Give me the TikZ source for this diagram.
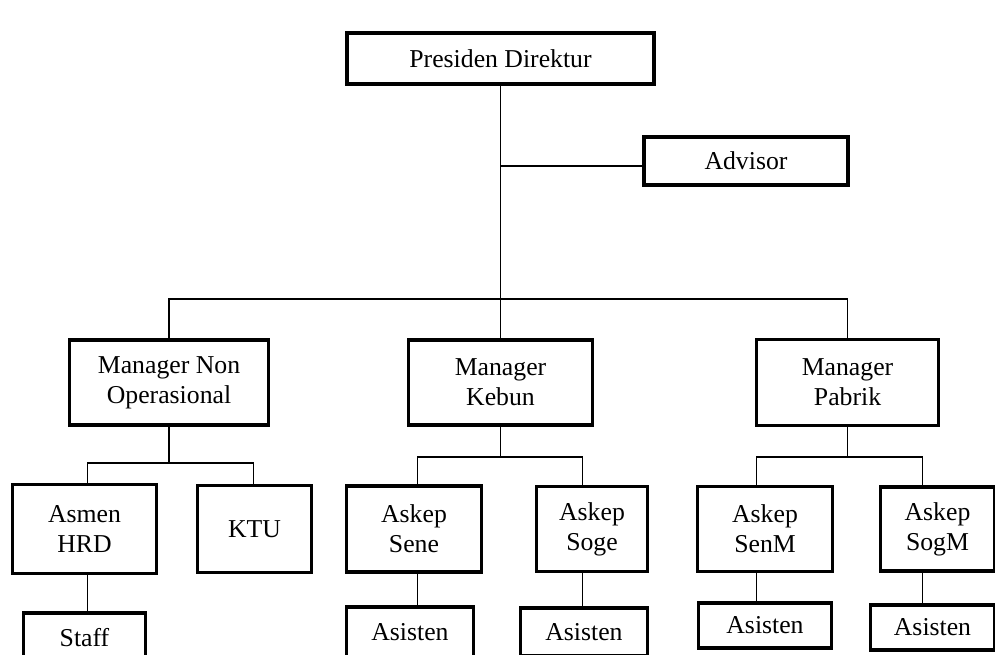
\documentclass[tikz,border=0pt]{standalone}
\usepackage{fontspec}
\setmainfont{Liberation Serif}
\usetikzlibrary{positioning}

\begin{document}
\begin{tikzpicture}[box/.style={
% The shape:
rectangle,
% The size:
inner sep=0pt, outer sep=0pt,
% The border:
draw=black, line width=2.6pt,
% The text:
align=center, font=\fontsize{19.3pt}{22.5pt}\selectfont
}, link/.style={line width=1.1pt}]

	\useasboundingbox (0,0) rectangle (746.25pt,-491.25pt);

	\node (PD) [box, minimum width=230.25pt, minimum height=38.25pt] at (375.4pt,-43.9pt) {Presiden Direktur};
	\coordinate [below=61.5pt of PD] (advfork);
	\node (ADV) [box, minimum width=153pt, minimum height=36pt, right=107.6pt of advfork, yshift=3.75pt] {Advisor};
	\coordinate [below=161.25pt of PD] (bar);

	\node (MK) [box, minimum width=138pt, minimum height=63.75pt, below=192pt of PD] {Manager\\Kebun};
	\node (MNO) [box, minimum width=149.25pt, minimum height=63.75pt, left=105pt of MK] {Manager Non\\Operasional};
	\node (MP) [box, minimum width=136.5pt, minimum height=64.5pt, right=123pt of MK] {Manager\\Pabrik};

	\node (AHRD) [box, minimum width=108pt, minimum height=66.75pt, below=44.6pt of MNO, xshift=-63.4pt] {Asmen\\HRD};
	\node (KTU) [box, minimum width=85.5pt, minimum height=65.25pt, right=30.75pt of AHRD] {KTU};
	\node (ASene) [box, minimum width=101.25pt, minimum height=64.5pt, right=26.25pt of KTU] {Askep\\Sene};
	\node (ASoge) [box, minimum width=83.25pt, minimum height=63.75pt, right=41.25pt of ASene] {Askep\\Soge};
	\node (ASenM) [box, minimum width=101.25pt, minimum height=63.75pt, right=37.5pt of ASoge] {Askep\\SenM};
	\node (ASogM) [box, minimum width=85.5pt, minimum height=63pt, right=36pt of ASenM] {Askep\\SogM};

	\node (Staff) [box, minimum width=91.5pt, minimum height=37.5pt, below=29.6pt of AHRD] {Staff};
	\node (AsSene) [box, minimum width=95.25pt, minimum height=37.5pt, below=26.25pt of ASene, xshift=-3pt] {Asisten};
	\node (AsSoge) [box, minimum width=95.25pt, minimum height=36pt, below=27.4pt of ASoge, xshift=-6pt] {Asisten};
	\node (AsSenM) [box, minimum width=99.75pt, minimum height=33.75pt, below=23.6pt of ASenM] {Asisten};
	\node (AsSogM) [box, minimum width=93pt, minimum height=33.75pt, below=25.5pt of ASogM, xshift=-3.75pt] {Asisten};

	% forks under the managers
	\coordinate [below=28.5pt of MNO] (nofork);
	\coordinate [left=61.1pt of nofork] (nfL);
	\coordinate [right=63.4pt of nofork] (nfR);
	\coordinate [below=24pt of MK] (kfork);
	\coordinate [left=62.25pt of kfork] (kfL);
	\coordinate [right=61.5pt of kfork] (kfR);
	\coordinate [below=23.6pt of MP] (pfork);
	\coordinate [left=68.25pt of pfork] (pfL);
	\coordinate [right=56.25pt of pfork] (pfR);

	\draw[link] (PD.south) -- (PD.south |- MK.north);
	\draw[link] (advfork) -- (advfork -| ADV.west);
	\draw[link] (MNO.north) |- (bar) -| (MP.north);

	\draw[link] (MNO.south) -- (nofork);
	\draw[link] (nfL |- AHRD.north) |- (nfR) -- (nfR |- KTU.north);
	\draw[link] (MK.south) -- (kfork);
	\draw[link] (kfL |- ASene.north) |- (kfR) -- (kfR |- ASoge.north);
	\draw[link] (MP.south) -- (pfork);
	\draw[link] (pfL |- ASenM.north) |- (pfR) -- (pfR |- ASogM.north);

	\draw[link] (AHRD.south -| nfL) -- (nfL |- Staff.north);
	\draw[link] (ASene.south -| kfL) -- (kfL |- AsSene.north);
	\draw[link] (ASoge.south -| kfR) -- (kfR |- AsSoge.north);
	\draw[link] (ASenM.south -| pfL) -- (pfL |- AsSenM.north);
	\draw[link] (ASogM.south -| pfR) -- (pfR |- AsSogM.north);
\end{tikzpicture}
\end{document}
